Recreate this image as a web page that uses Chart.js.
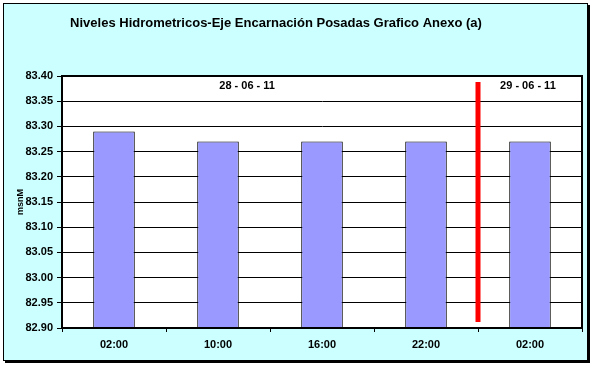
<!DOCTYPE html>
<html>
<head>
<meta charset="utf-8">
<script src="https://cdn.jsdelivr.net/npm/chart.js@4.4.0/dist/chart.umd.min.js"></script>
<style>
  html, body { margin: 0; padding: 0; background: #ffffff; }
  #wrap { width: 595px; height: 373px; }
</style>
</head>
<body>
<div id="wrap"><canvas id="chart" width="595" height="373"></canvas></div>
<script>
// horas de lectura
const categories = ["02:00", "10:00", "16:00", "22:00", "02:00"];
// nivel del rio (msnM)
const levels = [83.29, 83.27, 83.27, 83.27, 83.27];
// escala vertical
const yMin = 82.90;
const yMax = 83.40;
const yStep = 0.05;
// fechas y corte de dia
const dayLabels = ["28 - 06 - 11", "29 - 06 - 11"];
const dayBreakRange = [82.912, 83.388];

const TITLE = "Niveles Hidrometricos-Eje Encarnación Posadas Grafico Anexo (a)";
const FONT = "'Liberation Sans', Arial, sans-serif";

// fondo, marco, titulo y area blanca
const framePlugin = {
    id: "frame",
    beforeDraw(chart) {
        const ctx = chart.ctx;
        const a = chart.chartArea;
        ctx.save();
        ctx.fillStyle = "#ffffff";
        ctx.fillRect(0, 0, chart.width, chart.height);
        ctx.fillStyle = "#000000";
        ctx.fillRect(5, 5, 585, 358);
        ctx.fillStyle = "#ccffff";
        ctx.fillRect(3, 3, 585, 358);
        ctx.strokeStyle = "#000000";
        ctx.lineWidth = 1;
        ctx.strokeRect(3.5, 3.5, 584, 357);
        ctx.fillStyle = "#ffffff";
        ctx.fillRect(a.left, a.top, a.right - a.left, a.bottom - a.top);
        // titulo
        ctx.fillStyle = "#000000";
        ctx.font = "bold 13px " + FONT;
        ctx.textAlign = "center";
        ctx.textBaseline = "middle";
        ctx.fillText(TITLE, 276, 23);
        ctx.restore();
    },
    afterDatasetsDraw(chart) {
        const ctx = chart.ctx;
        const a = chart.chartArea;
        const x = chart.scales.x;
        const y = chart.scales.y;
        ctx.save();
        // linea roja de cambio de dia
        const bx = x.getPixelForValue(3.5);
        ctx.strokeStyle = "#ff0000";
        ctx.lineWidth = 5;
        ctx.beginPath();
        ctx.moveTo(bx, y.getPixelForValue(dayBreakRange[1]));
        ctx.lineTo(bx, y.getPixelForValue(dayBreakRange[0]));
        ctx.stroke();
        // marco del area
        ctx.strokeStyle = "#000000";
        ctx.lineWidth = 2;
        ctx.strokeRect(a.left, a.top, a.right - a.left, a.bottom - a.top);
        // fechas
        ctx.fillStyle = "#000000";
        ctx.font = "bold 11px " + FONT;
        ctx.textAlign = "center";
        ctx.textBaseline = "middle";
        ctx.fillText(dayLabels[0], x.getPixelForValue(1.28), y.getPixelForValue(83.38));
        ctx.fillText(dayLabels[1], x.getPixelForValue(3.98), y.getPixelForValue(83.38));
        ctx.restore();
    }
};

new Chart(document.getElementById("chart"), {
    type: "bar",
    data: {
        labels: categories,
        datasets: [{
            data: levels,
            backgroundColor: "#9999ff",
            borderColor: "#000000",
            borderWidth: 1,
            borderSkipped: false,
            barPercentage: 0.4,
            categoryPercentage: 1.0
        }]
    },
    options: {
        responsive: false,
        animation: false,
        layout: { padding: { left: 11, right: 13, top: 76, bottom: 0 } },
        plugins: {
            legend: { display: false },
            tooltip: { enabled: false },
            title: { display: false }
        },
        scales: {
            x: {
                grid: { display: true, offset: true, drawOnChartArea: false, tickLength: 4, color: "#000000" },
                border: { color: "#000000", width: 2 },
                ticks: { color: "#000000", font: { family: FONT, size: 11, weight: "bold" }, padding: 6 },
                afterFit(s) { s.height = 45; }
            },
            y: {
                min: yMin,
                max: yMax,
                grid: { color: "#000000", tickLength: 5 },
                border: { color: "#000000", width: 2 },
                ticks: {
                    stepSize: yStep,
                    color: "#000000",
                    padding: 4,
                    font: { family: FONT, size: 11, weight: "bold" },
                    callback: (v) => Number(v).toFixed(2)
                },
                title: {
                    display: true,
                    text: "msnM",
                    color: "#000000",
                    font: { family: FONT, size: 9, weight: "bold" }
                },
                afterFit(s) { s.width = 51; }
            }
        }
    },
    plugins: [framePlugin]
});
</script>
</body>
</html>
